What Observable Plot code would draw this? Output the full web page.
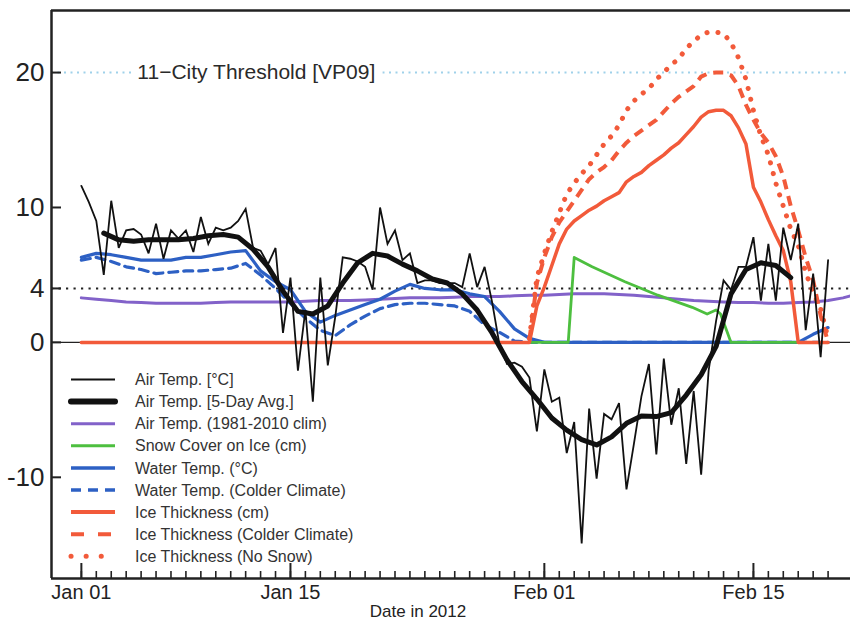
<!DOCTYPE html>
<html><head><meta charset="utf-8">
<script src="https://cdn.jsdelivr.net/npm/d3@7"></script>
<script src="https://cdn.jsdelivr.net/npm/@observablehq/plot@0.6"></script>
<style>body{margin:0;background:#fff;} #chart{width:850px;height:622px;}</style>
</head><body><div id="chart"></div>
<script>
// ---------- data (day offsets from 2012-01-01) ----------
// Air temperature, twice daily, from Jan 01 00h
const airTemp = [11.6,10.4,9.0,5.0,10.5,7.0,8.3,8.4,8.0,6.6,
 8.8,6.2,8.3,7.7,8.3,6.7,9.3,7.3,8.5,8.3,
 8.5,9.0,9.9,7.0,6.8,5.8,7.0,0.7,4.8,-2.1,
 2.4,-4.4,4.8,-1.7,1.9,6.3,6.2,6.0,5.6,3.9,
 10.0,7.3,8.3,6.1,6.6,4.4,4.6,4.6,4.4,4.4,
 4.4,4.1,6.6,4.1,5.6,3.0,-0.2,-1.6,-1.5,-1.8,
 -2.6,-6.6,-2.0,-4.4,-4.1,-8.2,-5.9,-14.9,-4.9,-10.1,
 -5.3,-5.7,-4.5,-10.9,-7.5,-4.0,-1.6,-8.3,-1.2,-6.1,
 -3.4,-9.0,-3.6,-9.8,-2.1,1.6,4.6,3.9,5.6,5.6,
 7.8,3.1,7.3,3.1,8.5,6.1,8.8,0.9,5.1,-1.1,
 6.1];
// 5-day average, daily from Jan 02 12h
const airTemp5d = [8.1,7.6,7.5,7.6,7.6,7.6,7.7,7.9,8.0,7.8,
 6.9,5.6,3.8,2.3,2.1,2.7,4.4,5.9,6.6,6.4,
 5.8,5.3,4.7,4.4,3.6,2.4,0.7,-1.3,-2.9,-4.2,
 -5.6,-6.5,-7.2,-7.6,-7.0,-6.0,-5.45,-5.5,-5.2,-3.9,
 -2.4,-0.3,3.6,5.4,5.9,5.7,4.8];
// 1981-2010 climatology, daily from Jan 01
const airClim = [3.3,3.2,3.1,3.0,2.95,2.9,2.9,2.9,2.9,2.95,
 3.0,3.0,3.0,3.0,3.0,3.05,3.1,3.1,3.1,3.15,
 3.2,3.25,3.3,3.3,3.3,3.35,3.4,3.4,3.4,3.45,
 3.5,3.5,3.55,3.6,3.6,3.6,3.55,3.5,3.4,3.3,
 3.2,3.1,3.05,3.0,2.95,2.95,2.9,2.9,2.95,3.0,
 3.1,3.3,3.6];
// Water temperature, daily from Jan 01
const waterTemp = [6.3,6.6,6.5,6.3,6.1,6.1,6.1,6.3,6.3,6.5,
 6.7,6.8,5.3,4.5,3.9,2.3,1.5,2.0,2.4,2.8,
 3.2,3.8,4.3,4.0,3.9,3.9,3.6,3.4,2.3,1.0,
 0.3,0,0,0,0,0,0,0,0,0,
 0,0,0,0,0,0,0,0,0,0.6,
 1.1];
const waterTempCold = [6.1,6.3,6.0,5.6,5.4,5.1,5.2,5.3,5.3,5.4,
 5.5,5.85,5.0,4.0,2.9,1.8,0.9,0.5,1.3,1.95,
 2.5,2.8,2.9,2.9,2.8,2.7,2.3,1.3,0.75,0.1,
 0,0,0,0,0,0,0,0,0,0,
 0,0,0,0,0,0,0,0,0,0,0];
// Snow cover on ice (cm): vertices
const snowDays   = [30, 32.6, 33.0, 34.2, 36.4, 38.6, 40.9, 41.9, 42.5, 42.8, 43.5, 48];
const snowValues = [0,  0,    6.3,  5.6,  4.5,  3.5,  2.6,  2.1,  2.4,  2.1,  0,    0];
// Ice thickness (cm), twice daily from Jan 31 00h
const iceThick = [0,2.7,4.1,5.7,7.3,8.4,9.0,9.4,9.8,10.1,10.5,10.8,11.1,11.9,12.3,12.6,13.1,13.5,13.9,14.4,
 14.8,15.4,16.0,16.7,17.1,17.2,17.2,16.8,15.9,14.7,11.5,10.4,9.1,7.9,6.8,4.5,0];
const iceThickCold = [0.2,4.4,6.3,7.8,8.9,9.7,10.5,11.3,12.1,12.6,13.0,13.5,14.2,14.8,15.3,15.7,16.1,16.5,17.1,17.7,
 18.2,18.6,19.0,19.7,19.95,20.0,20.0,19.8,19.0,17.6,16.5,15.5,14.8,13.8,12.3,10.1,8.3,6.3,4.6,2.0,0];
const iceThickNoSnow = [0.3,4.8,6.6,8.2,9.6,11.0,11.8,12.5,13.1,13.9,14.7,15.3,16.1,17.2,17.9,18.4,18.8,19.5,20.0,20.6,
 21.0,21.8,22.3,22.8,23.0,23.0,22.9,22.2,21.1,19.5,17.2,15.3,13.9,11.8,10.1,8.4,7.2,5.2,3.7,2.5,0.3];

const thresholdValue = 20;
const thresholdLabel = "11\u2212City Threshold [VP09]";
const thresholdLabelDay = 3.75;
const refLine = 4;
const yTicks = [-10, 0, 4, 10, 20];
const majorTickDates = ["2012-01-01", "2012-01-15", "2012-02-01", "2012-02-15"];
const xTitle = "Date in 2012";
const legendLabels = ["Air Temp. [\u00b0C]", "Air Temp. [5-Day Avg.]", "Air Temp. (1981-2010 clim)",
  "Snow Cover on Ice (cm)", "Water Temp. (\u00b0C)", "Water Temp. (Colder Climate)",
  "Ice Thickness (cm)", "Ice Thickness (Colder Climate)", "Ice Thickness (No Snow)"];

// ---------- helpers ----------
const t0 = Date.UTC(2012, 0, 1);
const toDate = d => new Date(t0 + d * 86400000);
const seq = (d0, step, vals) => vals.map((v, i) => ({date: toDate(d0 + i * step), value: v}));

const air = seq(0, 0.5, airTemp);
const air5 = seq(1.5, 1, airTemp5d);
const clim = seq(0, 1, airClim);
const water = seq(0, 1, waterTemp);
const waterC = seq(0, 1, waterTempCold);
const snow = snowDays.map((d, i) => ({date: toDate(d), value: snowValues[i]}));
const ice = [{date: toDate(0), value: 0}, ...seq(30, 0.5, iceThick), {date: toDate(50), value: 0}];
const iceC = seq(30, 0.5, iceThickCold);
const iceN = seq(30, 0.5, iceThickNoSnow);

const xDomain = [toDate(-2), toDate(51.5)];
const yDomain = [-17.5, 24.6];
const majors = majorTickDates.map(s => new Date(s + "T00:00:00Z"));
const minors = d3.range(0, 51).map(toDate);

const C = {black: "#111", purple: "#8262c9", green: "#4dbf3f", blue: "#2d60c4", red: "#f25a3a", axis: "#222", text: "#2a2a2a"};
const W = 850, H = 622, mL = 51, mR = 0, mT = 10, mB = 44;
const fw = W - mL - mR, fh = H - mT - mB;

const L = (data, o) => Plot.line(data, {x: "date", y: "value", clip: true, ...o});

const plot = Plot.plot({
  width: W, height: H, marginLeft: mL, marginRight: mR, marginTop: mT, marginBottom: mB,
  x: {type: "utc", domain: xDomain},
  y: {domain: yDomain},
  style: {fontFamily: "'Liberation Sans', Arial, Helvetica, sans-serif", background: "#fff", overflow: "visible"},
  marks: [
    Plot.ruleY([thresholdValue], {stroke: "#9fd1ea", strokeWidth: 2, strokeDasharray: "2,4.5"}),
    Plot.ruleY([refLine], {stroke: "#222", strokeWidth: 2, strokeDasharray: "2.2,5.3"}),
    Plot.ruleY([0], {stroke: "#222", strokeWidth: 1.3}),
    Plot.text([thresholdLabel], {x: toDate(thresholdLabelDay), y: thresholdValue, text: d => d, textAnchor: "start",
      fontSize: 21, fill: C.text, stroke: "white", strokeWidth: 16}),
    L(clim, {stroke: C.purple, strokeWidth: 3}),
    L(waterC, {stroke: C.blue, strokeWidth: 3.2, strokeDasharray: "9,6"}),
    L(water, {stroke: C.blue, strokeWidth: 3.2}),
    L(snow, {stroke: C.green, strokeWidth: 2.8}),
    L(iceN, {stroke: C.red, strokeWidth: 5, strokeDasharray: "0.1,11", strokeLinecap: "round"}),
    L(iceC, {stroke: C.red, strokeWidth: 4, strokeDasharray: "10,7", strokeLinecap: "butt"}),
    L(ice, {stroke: C.red, strokeWidth: 3.5}),
    L(air, {stroke: C.black, strokeWidth: 1.8, strokeLinejoin: "miter", strokeMiterlimit: 3}),
    L(air5, {stroke: C.black, strokeWidth: 5, strokeLinecap: "round"}),
    // frame & ticks
    Plot.ruleX([xDomain[0]], {stroke: C.axis, strokeWidth: 2.5}),
    Plot.ruleY([yDomain[1]], {stroke: C.axis, strokeWidth: 2.5}),
    Plot.ruleY([yDomain[0]], {stroke: C.axis, strokeWidth: 2.5}),
    Plot.ruleX(minors, {stroke: C.axis, strokeWidth: 1.6, insetTop: fh - 7}),
    Plot.ruleX(majors, {stroke: C.axis, strokeWidth: 2, insetTop: fh - 15}),
    Plot.ruleY(yTicks, {stroke: C.axis, strokeWidth: 2, insetRight: fw - 10}),
    Plot.axisY({ticks: yTicks, tickSize: 0, tickPadding: 7, fontSize: 26, fill: C.axis, label: null,
      tickFormat: d => (d < 0 ? "-" + Math.abs(d) : String(d))}),
    Plot.axisX({ticks: majors, tickSize: 0, tickPadding: 6, fontSize: 20, fill: C.axis, label: null,
      tickFormat: d3.utcFormat("%b %d")}),
    Plot.text([xTitle], {text: d => d, frameAnchor: "bottom", dx: -33, dy: 38, lineAnchor: "bottom",
      fontSize: 17, fill: C.axis})
  ]
});

// ---------- legend ----------
const svg = d3.select(plot);
const legendStyles = [
  {stroke: C.black, w: 2},
  {stroke: C.black, w: 6, cap: "round"},
  {stroke: C.purple, w: 3},
  {stroke: C.green, w: 3},
  {stroke: C.blue, w: 3.5},
  {stroke: C.blue, w: 3.5, dash: "10,7"},
  {stroke: C.red, w: 4},
  {stroke: C.red, w: 4, dash: "13,14"},
  {stroke: C.red, w: 5, dash: "0.1,15", cap: "round"}
];
const lg = svg.append("g").attr("text-anchor", "start");
legendLabels.forEach((lab, i) => {
  const y = 379.5 + i * 22.1;
  const s = legendStyles[i];
  lg.append("line").attr("x1", 71).attr("x2", 115).attr("y1", y).attr("y2", y)
    .attr("stroke", s.stroke).attr("stroke-width", s.w)
    .attr("stroke-dasharray", s.dash || null).attr("stroke-linecap", s.cap || "butt");
  lg.append("text").attr("x", 135).attr("y", y).attr("dy", "0.35em").attr("text-anchor", "start")
    .attr("font-size", 16).attr("fill", "#333").text(lab);
});

document.getElementById("chart").appendChild(plot);
</script>
</body></html>
